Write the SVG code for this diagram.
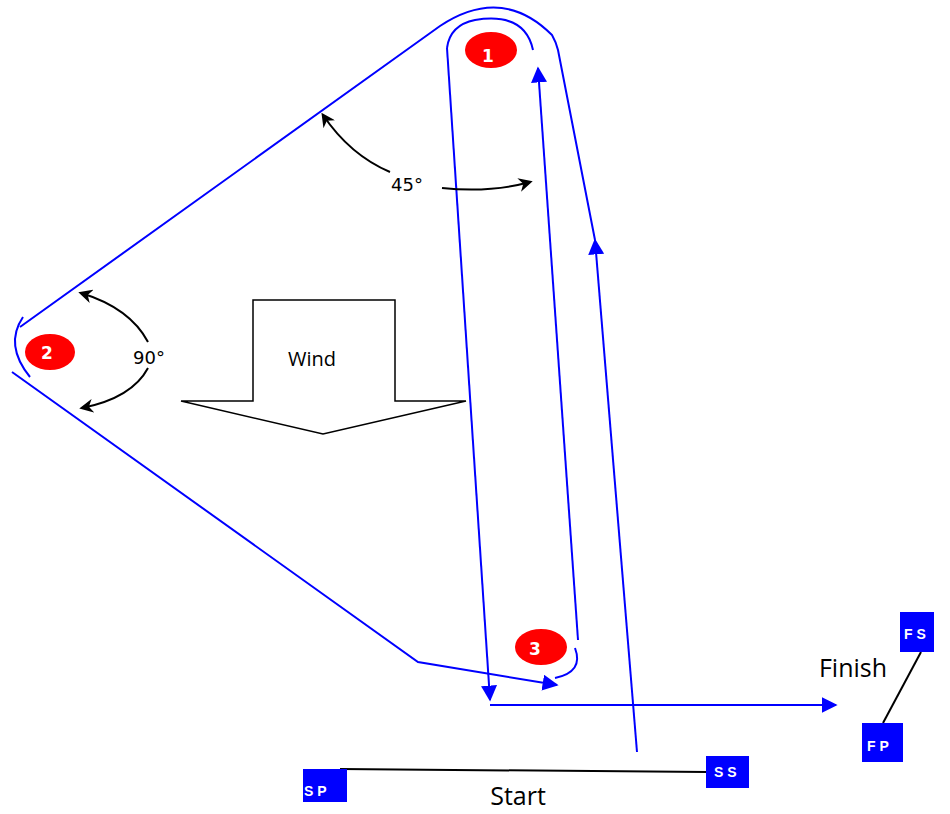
<svg xmlns="http://www.w3.org/2000/svg" width="950" height="814" viewBox="0 0 950 814">
<defs>
<style>
.b{fill:none;stroke:#0000ff;stroke-width:2}
.k{fill:none;stroke:#000;stroke-width:2}
.mark{fill:#ff0000}
.mt{font-family:"DejaVu Sans",sans-serif;font-weight:bold;font-size:17px;fill:#fff;text-anchor:middle}
.box{fill:#0000ff}
.bt{font-family:"Liberation Sans",Arial,sans-serif;font-weight:bold;font-size:14px;fill:#fff}
.lbl{font-family:"Open Sans","Liberation Sans",sans-serif;font-size:25px;fill:#000;text-anchor:middle}
.ang{font-family:"DejaVu Sans",sans-serif;font-size:18px;fill:#000;text-anchor:middle}
</style>
<marker id="abL" viewBox="0 0 10 10" refX="9" refY="5" markerWidth="16" markerHeight="16" markerUnits="userSpaceOnUse" orient="auto"><path d="M0,0 L10,5 L0,10 z" fill="#0000ff"/></marker>
<marker id="ak" viewBox="0 0 10 10" refX="8" refY="5" markerWidth="14" markerHeight="14" markerUnits="userSpaceOnUse" orient="auto"><path d="M0,0 L10,5 L0,10 L3,5 z" fill="#000"/></marker>
</defs>
<g id="connectors">
<path class="b" d="M20,327 L440,26 Q502,-15 552,35 Q556,42 558,50 L595,240"/>
<path class="b" d="M637,752 L595,240" marker-end="url(#abL)"/>
<path class="b" d="M447,48 Q450,25 475,20 Q525,12 533,50"/>
<path class="b" d="M447,48 L490,700" marker-end="url(#abL)"/>
<path class="b" d="M578,640 L538,68" marker-end="url(#abL)"/>
<path class="b" d="M12,372 L418,662 L557,685" marker-end="url(#abL)"/>
<path class="b" d="M490,705 L836,705" marker-end="url(#abL)"/>
<path class="b" d="M23,317 Q4,345 30,377"/>
<path class="b" d="M575,648 Q584,672 555,678"/>
<path class="k" d="M148,342 Q130,308 81,293" marker-end="url(#ak)"/>
<path class="k" d="M148,368 Q132,398 82,408" marker-end="url(#ak)"/>
<path class="k" d="M390,172 Q350,155 323,115" marker-end="url(#ak)"/>
<path class="k" d="M442,188 Q490,193 530,182" marker-end="url(#ak)"/>
<path d="M340,769 L707,772" stroke="#000" stroke-width="2"/>
<path d="M921,652 L883,723" stroke="#000" stroke-width="2"/>
</g>
<g id="wind">
<polygon points="253,300 395,300 395,401 466,401 323,434 181,401 253,401" fill="#fff" stroke="#000" stroke-width="1.5"/>
<text x="312" y="366" font-family="Open Sans,Liberation Sans,sans-serif" font-size="20" text-anchor="middle">Wind</text>
</g>
<g id="mark1"><ellipse class="mark" cx="491" cy="50" rx="26" ry="18"/><text class="mt" x="488" y="62">1</text></g>
<g id="mark2"><ellipse class="mark" cx="50" cy="352" rx="25" ry="18"/><text class="mt" x="47" y="359">2</text></g>
<g id="mark3"><ellipse class="mark" cx="541" cy="647" rx="26" ry="18"/><text class="mt" x="535" y="655">3</text></g>
<g id="angle90"><text class="ang" x="149" y="364">90°</text></g>
<g id="angle45"><text class="ang" x="407" y="191">45°</text></g>
<g id="SP"><rect class="box" x="303" y="769" width="44" height="33"/><text class="bt" x="304" y="796">S P</text></g>
<g id="SS"><rect class="box" x="706" y="756" width="43" height="32"/><text class="bt" x="714" y="777">S S</text></g>
<g id="FS"><rect class="box" x="900" y="612" width="34" height="40"/><text class="bt" x="904" y="639">F S</text></g>
<g id="FP"><rect class="box" x="862" y="723" width="41" height="39"/><text class="bt" x="867" y="751">F P</text></g>
<g id="labels">
<text class="lbl" x="518" y="805">Start</text>
<text class="lbl" x="853" y="677">Finish</text>
</g>
</svg>
